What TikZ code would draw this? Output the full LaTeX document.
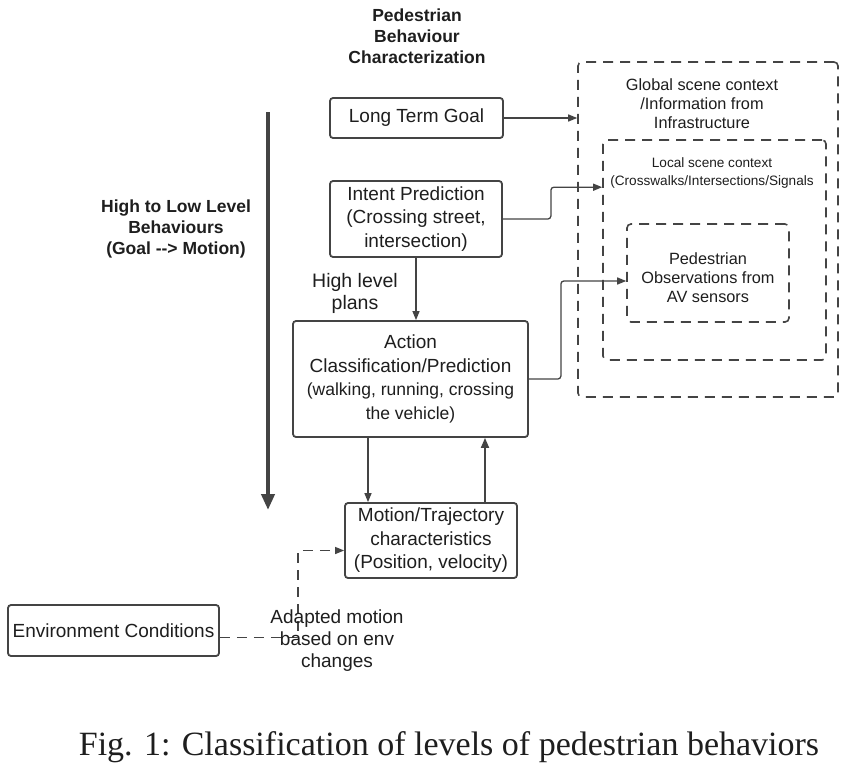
\documentclass[tikz,border=0pt]{standalone}
\usepackage{fontspec}
\setmainfont{Liberation Sans}
\newfontfamily\capfont{Liberation Serif}
\usetikzlibrary{arrows.meta,calc}
\definecolor{lc}{HTML}{444444}
\definecolor{tc}{HTML}{1E1E1E}
\begin{document}
\begin{tikzpicture}[x=1pt,y=-1pt,
  box/.style={draw=lc, line width=1.8pt, rounded corners=3pt, inner sep=0pt, align=center, text=tc, font=\fontsize{19}{23.5}\selectfont},
  dbox/.style={draw=lc, line width=1.6pt, dash pattern=on 10pt off 7pt, rounded corners=4pt, inner sep=0pt},
  lbl/.style={align=center, text=tc, inner sep=0pt},
  conn/.style={draw=lc, line width=1.3pt, -{Triangle[length=9pt,width=7pt]}},
]
\useasboundingbox (0,0) rectangle (850,765);
\fill[white] (0,0) rectangle (850,765);

% title
\node[lbl, font=\bfseries\fontsize{17.5}{21}\selectfont] (title) at (417,36) {Pedestrian\\Behaviour\\Characterization};

% side label and big arrow
\node[lbl, font=\bfseries\fontsize{17.5}{21}\selectfont] (side) at (176,229) {High to Low Level\\Behaviours\\(Goal {-}{-}> Motion)};
\coordinate (bigtop) at (268,112);
\coordinate (bigbot) at (268,510);
\draw[draw=lc, line width=4.5pt, -{Triangle[length=16pt,width=13pt]}] (bigtop) -- (bigbot);

% boxes
\node[box, minimum width=173pt, minimum height=40pt] (ltg) at (416.5,118) {Long Term Goal};
\node[box, minimum width=172pt, minimum height=76pt] (intent) at (416,219) {Intent Prediction\\(Crossing street,\\intersection)};
\node[box, minimum width=235pt, minimum height=116pt] (action) at (410.5,379)
  {\fontsize{19}{23.5}\selectfont Action\\[0pt]
   \fontsize{19}{23.5}\selectfont Classification/Prediction\\[0pt]
   \fontsize{17.5}{21}\selectfont (walking, running, crossing\\[0pt]
   \fontsize{17.5}{21}\selectfont the vehicle)};
\node[box, minimum width=172pt, minimum height=75pt] (motion) at (431,540.5) {Motion/Trajectory\\characteristics\\(Position, velocity)};
\node[box, minimum width=211pt, minimum height=51pt] (env) at (113.5,630.5) {Environment Conditions};

% dashed context boxes
\node[dbox, minimum width=260pt, minimum height=335pt] (global) at (708,229.5) {};
\node[dbox, minimum width=223pt, minimum height=220pt] (local) at (714.5,250) {};
\node[dbox, minimum width=162pt, minimum height=98pt] (inner) at (708,273) {};

\node[lbl, font=\fontsize{16.3}{19}\selectfont] (globaltxt) at (702,104) {Global scene context\\/Information from\\Infrastructure};
\node[lbl, font=\fontsize{13.6}{18}\selectfont] (localtxt) at (712,173) {Local scene context\\(Crosswalks/Intersections/Signals};
\node[lbl, font=\fontsize{16.3}{19}\selectfont] (innertxt) at (708,278) {Pedestrian\\Observations from\\AV sensors};

% labels
\node[lbl, font=\fontsize{19.5}{22}\selectfont] (hlp) at (355,293) {High level\\plans};

% connectors
\draw[conn] (ltg.east) -- (ltg.east -| global.west);
\draw[conn, rounded corners=3pt] (intent.east) -- ++(48,0) |- ([yshift=-48pt]local.north west);
\draw[conn, rounded corners=3pt] (action.east) -- ++(32,0) |- ([yshift=-8pt]inner.west);
\draw[conn] (intent.south) -- (intent.south |- action.north);
\draw[conn] ([xshift=-63pt]motion.north |- action.south) -- ([xshift=-63pt]motion.north);
\draw[draw=lc, line width=1.8pt, -{Triangle[length=10pt,width=8pt]}] ([xshift=54pt]motion.north) -- ([xshift=54pt]motion.north |- action.south);
\draw[conn, dash pattern=on 10pt off 7pt] ([yshift=-7pt]env.east) -- ++(78,0) |- ([yshift=-10pt]motion.west);
\node[lbl, font=\fontsize{19}{22}\selectfont] (adapt) at (337,641) {Adapted motion\\based on env\\changes};

% caption
\node[lbl, font=\capfont\fontsize{34}{40}\selectfont, anchor=base] (cap) at (449,755) {Fig. 1: Classification of levels of pedestrian behaviors};
\end{tikzpicture}
\end{document}
